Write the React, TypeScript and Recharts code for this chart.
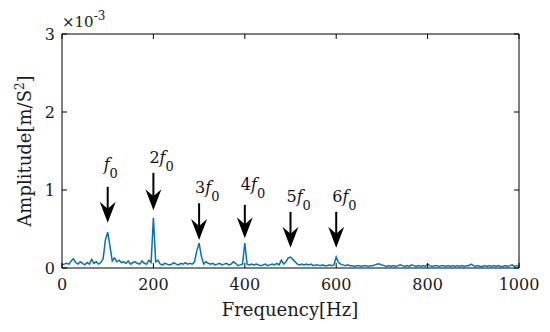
import { LineChart, Line, XAxis, YAxis, ReferenceLine, ReferenceDot } from 'recharts';

// spectrum sampled every 5 Hz, amplitude in units of 1e-3 m/s^2
const FREQ_STEP = 5;
const AMPLITUDE = [
  0.04, 0.05, 0.06, 0.05, 0.09, 0.12, 0.07, 0.05, 0.08, 0.06, 0.04, 0.07, 0.05, 0.11, 0.06, 0.08, 0.05, 0.07, 0.12, 0.36,
  0.46, 0.28, 0.09, 0.13, 0.08, 0.1, 0.07, 0.08, 0.06, 0.09, 0.05, 0.07, 0.08, 0.06, 0.05, 0.09, 0.06, 0.05, 0.1, 0.07,
  0.645, 0.08, 0.1, 0.05, 0.04, 0.06, 0.05, 0.04, 0.05, 0.07, 0.05, 0.04, 0.06, 0.05, 0.07, 0.05, 0.06, 0.05, 0.08, 0.22,
  0.32, 0.15, 0.05, 0.08, 0.06, 0.05, 0.06, 0.04, 0.05, 0.06, 0.04, 0.05, 0.06, 0.04, 0.05, 0.08, 0.06, 0.03, 0.04, 0.05,
  0.32, 0.05, 0.04, 0.05, 0.04, 0.05, 0.04, 0.03, 0.04, 0.05, 0.03, 0.04, 0.05, 0.04, 0.06, 0.04, 0.1, 0.05, 0.08, 0.13,
  0.14, 0.11, 0.08, 0.05, 0.04, 0.05, 0.04, 0.05, 0.04, 0.05, 0.03, 0.04, 0.04, 0.03, 0.04, 0.03, 0.03, 0.04, 0.03, 0.04,
  0.14, 0.07, 0.05, 0.04, 0.03, 0.04, 0.03, 0.03, 0.02, 0.03, 0.03, 0.02, 0.03, 0.03, 0.02, 0.03, 0.03, 0.04, 0.05, 0.05,
  0.04, 0.03, 0.02, 0.03, 0.02, 0.03, 0.02, 0.03, 0.04, 0.03, 0.02, 0.03, 0.02, 0.04, 0.03, 0.02, 0.03, 0.02, 0.03, 0.02,
  0.05, 0.03, 0.02, 0.03, 0.03, 0.02, 0.03, 0.03, 0.02, 0.03, 0.02, 0.03, 0.02, 0.03, 0.02, 0.03, 0.02, 0.03, 0.03, 0.05,
  0.03, 0.02, 0.03, 0.02, 0.02, 0.03, 0.02, 0.03, 0.02, 0.03, 0.02, 0.03, 0.02, 0.02, 0.03, 0.02, 0.03, 0.04, 0.02, 0.03,
  0.03,
];

const X_TICKS = [0, 200, 400, 600, 800, 1000];
const Y_TICKS = [0, 1, 2, 3];

// harmonic annotations (f0 = 100 Hz)
const HARMONIC_PREFIX = ['', '2', '3', '4', '5', '6'];
const HARMONIC_FREQ = [100, 200, 300, 400, 500, 600];
const ARROW_TIP = [0.58, 0.74, 0.36, 0.38, 0.26, 0.26];
const ARROW_TAIL = [1.04, 1.22, 0.83, 0.81, 0.72, 0.72];
const LABEL_LEVEL = [1.26, 1.35, 0.96, 1.0, 0.85, 0.85];

const FONT = '"DejaVu Serif", serif';
const PLOT_LEFT = 62;
const PLOT_RIGHT = 519;
const PLOT_TOP = 34;

const data = AMPLITUDE.map((amp, i) => ({ freq: i * FREQ_STEP, amp }));

const XTick = (props: any) => {
  const { x, y, payload } = props;
  return (
    <g>
      <line x1={x} x2={x} y1={y} y2={y - 5} stroke="#000" />
      <line x1={x} x2={x} y1={PLOT_TOP} y2={PLOT_TOP + 5} stroke="#000" />
      <text x={x} y={y + 22} textAnchor="middle" fontFamily={FONT} fontSize={16} fill="#1a1a1a">
        {payload.value}
      </text>
    </g>
  );
};

const YTick = (props: any) => {
  const { y, payload } = props;
  return (
    <g>
      <line x1={PLOT_LEFT} x2={PLOT_LEFT + 5} y1={y} y2={y} stroke="#000" />
      <line x1={PLOT_RIGHT} x2={PLOT_RIGHT - 5} y1={y} y2={y} stroke="#000" />
      <text x={PLOT_LEFT - 7} y={y + 6} textAnchor="end" fontFamily={FONT} fontSize={16} fill="#1a1a1a">
        {payload.value}
      </text>
    </g>
  );
};

const ArrowHead = ({ cx, cy }: any) => (
  <path
    d={`M${cx},${cy} L${cx - 8},${cy - 21} L${cx},${cy - 14} L${cx + 8},${cy - 21} Z`}
    fill="#000"
  />
);

const makeLabel = (prefix: string) => ({ cx, cy }: any) => (
  <text x={cx - 4} y={cy} fontFamily={FONT} fontSize={16} fill="#111">
    {prefix}
    <tspan fontStyle="italic">f</tspan>
    <tspan fontSize={13} dy={8}>0</tspan>
  </text>
);

const App = () => {
  return (
    <div style={{ position: 'fixed', left: 0, top: 0, width: 550, height: 332, background: '#fff' }}>
      <LineChart width={550} height={332} data={data} margin={{ top: PLOT_TOP, right: 550 - PLOT_RIGHT, left: 0, bottom: 0 }}>
        <XAxis
          dataKey="freq"
          type="number"
          domain={[0, 1000]}
          ticks={X_TICKS}
          height={64}
          tickSize={0}
          tickMargin={0}
          tickLine={false}
          tick={<XTick />}
          axisLine={{ stroke: '#000' }}
        />
        <YAxis
          type="number"
          domain={[0, 3]}
          ticks={Y_TICKS}
          width={PLOT_LEFT}
          tickSize={0}
          tickMargin={0}
          tickLine={false}
          tick={<YTick />}
          axisLine={{ stroke: '#000' }}
        />
        <ReferenceLine y={3} stroke="#000" />
        <ReferenceLine x={1000} stroke="#000" />
        <Line
          dataKey="amp"
          type="linear"
          stroke="#0072BD"
          strokeWidth={1.5}
          dot={false}
          isAnimationActive={false}
        />
        {HARMONIC_FREQ.map((f, i) => (
          <ReferenceLine
            key={`shaft-${i}`}
            segment={[{ x: f, y: ARROW_TAIL[i] }, { x: f, y: ARROW_TIP[i] + 0.1 }]}
            stroke="#000"
            strokeWidth={2}
          />
        ))}
        {HARMONIC_FREQ.map((f, i) => (
          <ReferenceDot key={`head-${i}`} x={f} y={ARROW_TIP[i]} r={0} shape={ArrowHead} />
        ))}
        {HARMONIC_FREQ.map((f, i) => (
          <ReferenceDot key={`label-${i}`} x={f} y={LABEL_LEVEL[i]} r={0} shape={makeLabel(HARMONIC_PREFIX[i])} />
        ))}
      </LineChart>
      <svg width={550} height={332} style={{ position: 'absolute', left: 0, top: 0, pointerEvents: 'none' }}>
        <text x={62} y={27} fontFamily={FONT} fontSize={15} fill="#1a1a1a">
          ×10
          <tspan fontSize={12} dy={-7}>-3</tspan>
        </text>
        <text
          x={290}
          y={316}
          textAnchor="middle"
          fontFamily={FONT}
          fontSize={18}
          fill="#1a1a1a"
        >
          Frequency[Hz]
        </text>
        <text
          x={31}
          y={151}
          textAnchor="middle"
          transform="rotate(-90 31 151)"
          fontFamily={FONT}
          fontSize={18}
          fill="#1a1a1a"
        >
          Amplitude[m/S
          <tspan fontSize={12} dy={-7}>2</tspan>
          <tspan dy={7}>]</tspan>
        </text>
      </svg>
    </div>
  );
};

export default App;
